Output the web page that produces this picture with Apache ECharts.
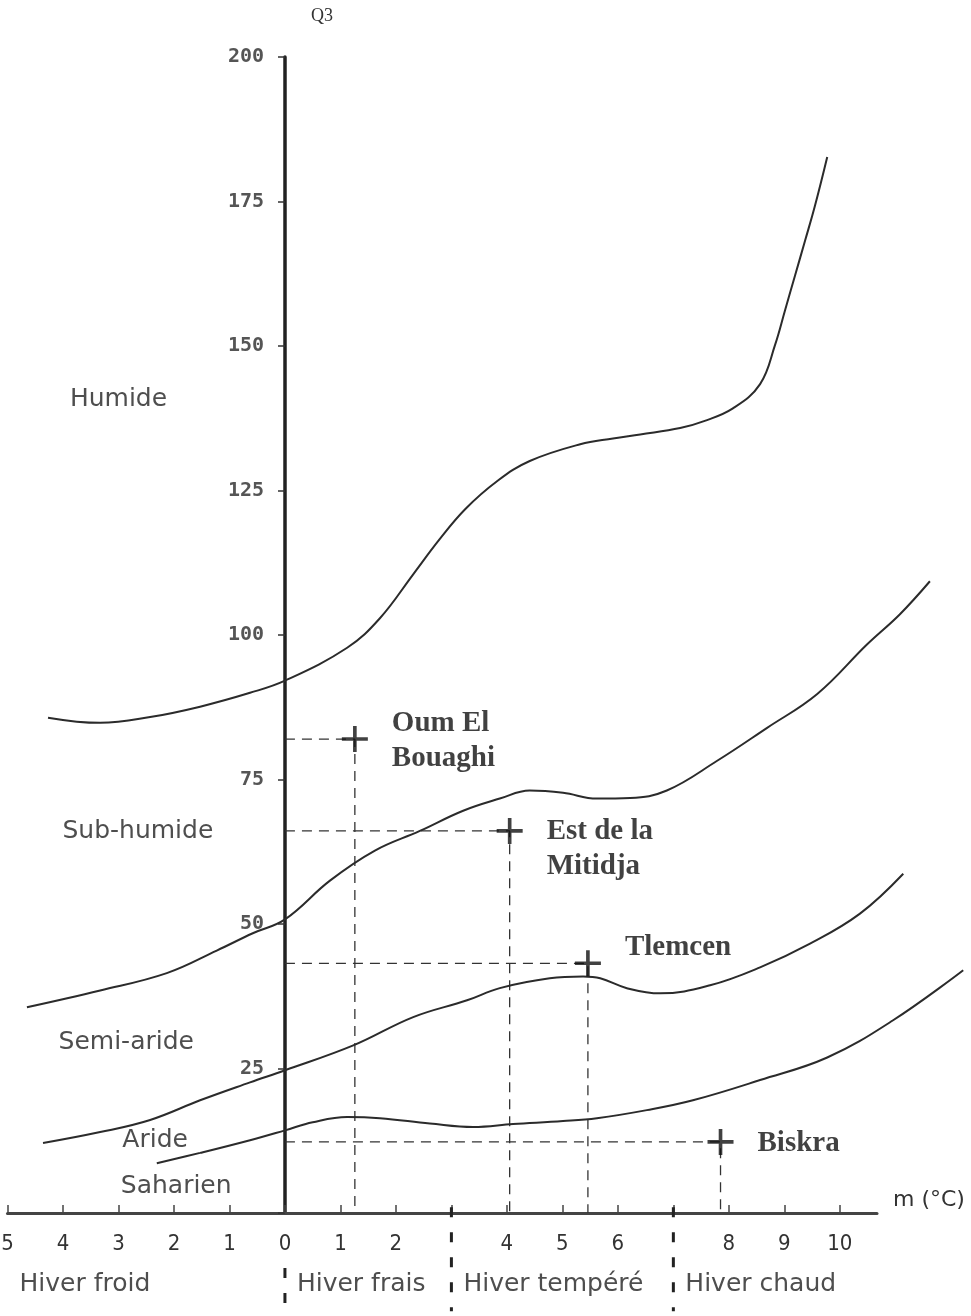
<!DOCTYPE html>
<html>
<head>
<meta charset="utf-8">
<title>Climagramme d'Emberger</title>
<script src="https://cdn.jsdelivr.net/npm/echarts@6/dist/echarts.min.js"></script>
<style>
  html, body { margin: 0; padding: 0; background: #fff; }
  #main { width: 971px; height: 1316px; }
</style>
</head>
<body>
<div id="main"></div>
<script>
// ticks of m (°C) and Q3
const xTicks = [-5, -4, -3, -2, -1, 0, 1, 2, 3, 4, 5, 6, 7, 8, 9, 10];
const xTickLabels = ['5', '4', '3', '2', '1', '0', '1', '2', '', '4', '5', '6', '', '8', '9', '10'];
const yTicks = [25, 50, 75, 100, 125, 150, 175, 200];

// limits between the bioclimatic stages, [m, Q3]
const humideLimit = [[-4.27, 85.7], [-3.33, 84.8], [-2.43, 85.8], [-1.53, 87.6], [-0.63, 90.0], [0, 92.1],
  [1.12, 97.8], [1.71, 102.9], [2.31, 110.5], [2.78, 116.5], [3.25, 121.8], [3.82, 126.6], [4.41, 130.1],
  [5.32, 133.0], [5.91, 134.0], [6.40, 134.7], [7.12, 135.8], [7.55, 137.0], [8.07, 139.2], [8.56, 143.4],
  [8.83, 150.2], [9.01, 156.2], [9.19, 162.2], [9.37, 168.2], [9.55, 174.3], [9.77, 182.7]];
const subHumideLimit = [[-4.65, 35.6], [-3.33, 38.5], [-2.13, 41.5], [-1.23, 45.4], [-0.58, 48.4], [0, 50.8],
  [0.81, 57.5], [1.62, 62.7], [2.43, 66.1], [3.21, 69.6], [3.87, 71.7], [4.41, 73.1], [5.01, 72.7],
  [5.62, 71.7], [6.22, 71.8], [6.88, 73.1], [7.78, 78.2], [8.68, 83.9], [9.59, 89.8], [10.49, 98.4],
  [11.08, 103.6], [11.62, 109.3]];
const semiArideLimit = [[-4.36, 12.1], [-3.33, 14.0], [-2.43, 16.1], [-1.53, 19.5], [-0.63, 22.6], [0, 24.7],
  [1.23, 29.0], [2.31, 33.9], [3.28, 36.8], [3.87, 38.9], [4.77, 40.6], [5.37, 40.9], [5.68, 40.6],
  [6.16, 38.9], [6.76, 38.0], [7.66, 39.4], [8.56, 42.5], [9.46, 46.6], [10.36, 51.8], [11.14, 58.7]];
const arideLimit = [[-2.31, 8.6], [-1.53, 10.4], [-0.63, 12.6], [0, 14.3], [0.50, 15.7], [1.12, 16.6],
  [1.71, 16.4], [2.61, 15.5], [3.39, 14.9], [4.11, 15.4], [5.01, 15.9], [5.62, 16.4], [6.52, 17.8],
  [7.35, 19.5], [8.56, 23.0], [9.77, 26.9], [10.95, 33.3], [12.22, 42.0]];

// stations
const stations = ['Oum El\nBouaghi', 'Est de la\nMitidja', 'Tlemcen', 'Biskra'];
const stationM = [1.26, 4.05, 5.46, 7.85];
const stationQ3 = [82.0, 66.1, 43.2, 12.3];

// stage names and where they sit
const zoneNames = ['Humide', 'Sub-humide', 'Semi-aride', 'Aride', 'Saharien'];
const zoneM = [-3.0, -2.65, -2.86, -2.34, -1.96];
const zoneQ3 = [140.8, 66.0, 29.5, 12.6, 4.5];

// winter variants
const winterNames = ['Hiver froid', 'Hiver frais', 'Hiver tempéré', 'Hiver chaud'];
const winterStart = [-5, 0, 3, 7];

window.onload = function () {
  const myChart = echarts.init(document.getElementById('main'));

  const ink = '#2b2b2b';
  const crossPath = 'path://M4.3,0H5.7V4.3H10V5.7H5.7V10H4.3V5.7H0V4.3H4.3Z';
  const stationShift = [[0, 2], [0, 18], [0, -16], [0, 2]];
  const winterY = -12.4;
  const gridBase = { top: 57, bottom: 103, containLabel: false, outerBoundsMode: 'none' };

  // curves run past the end of the m axis: draw them on a wider twin grid with the same scale
  const curveSeries = [humideLimit, subHumideLimit, semiArideLimit, arideLimit].map(d => ({
    type: 'line',
    xAxisIndex: 1,
    yAxisIndex: 1,
    data: d,
    smooth: 0.4,
    showSymbol: false,
    clip: false,
    silent: true,
    lineStyle: { color: ink, width: 2 },
    z: 3
  }));

  const guideSeries = stations.map((s, i) => ({
    type: 'line',
    data: [[0, stationQ3[i]], [stationM[i], stationQ3[i]], [stationM[i], 0]],
    showSymbol: false,
    silent: true,
    lineStyle: { color: '#333', width: 1.3, type: [10, 7] },
    z: 2
  }));

  const dividerSeries = winterStart.slice(1).map(m => ({
    type: 'line',
    data: [[m, m === 0 ? -9.5 : 1], [m, -17]],
    showSymbol: false,
    clip: false,
    silent: true,
    lineStyle: { color: '#222', width: 3, type: [10, 15] }
  }));

  const option = {
    animation: false,
    textStyle: { fontFamily: 'DejaVu Sans' },
    grid: [
      Object.assign({ left: 7.5, right: 94 }, gridBase),
      Object.assign({ left: 7.5, right: 3.35 }, gridBase),
      // Q3 axis stands at m = 0
      Object.assign({ left: 285, right: 94 }, gridBase)
    ],
    xAxis: [{
      type: 'value',
      gridIndex: 0,
      min: -5,
      max: 10.67,
      interval: 1,
      name: 'm (°C)',
      nameLocation: 'end',
      nameGap: 16,
      nameTextStyle: { fontFamily: 'DejaVu Sans', fontSize: 22, color: '#333', verticalAlign: 'bottom', padding: [0, 0, 2, 0] },
      axisLine: { onZero: false, lineStyle: { color: '#444', width: 3 } },
      axisTick: { inside: true, length: 8, customValues: xTicks, lineStyle: { color: '#444', width: 1.5 } },
      axisLabel: {
        customValues: xTicks,
        margin: 20,
        fontFamily: 'Liberation Sans Narrow, DejaVu Sans Condensed, sans-serif',
        fontSize: 22,
        color: '#333',
        formatter: v => xTickLabels[xTicks.indexOf(v)] || ''
      },
      splitLine: { show: false }
    }, {
      type: 'value', gridIndex: 1, min: -5, max: 12.3, show: false
    }, {
      type: 'value', gridIndex: 2, min: 0, max: 10.67, show: false
    }],
    yAxis: [{
      type: 'value', gridIndex: 0, min: 0, max: 200, show: false
    }, {
      type: 'value', gridIndex: 1, min: 0, max: 200, show: false
    }, {
      type: 'value',
      gridIndex: 2,
      position: 'left',
      min: 0,
      max: 200,
      interval: 25,
      name: 'Q3',
      nameLocation: 'end',
      nameGap: 32,
      nameTextStyle: { fontFamily: 'Liberation Serif', fontSize: 18, color: '#333', align: 'left', padding: [0, 0, 0, 26] },
      axisLine: { show: true, onZero: false, lineStyle: { color: '#222', width: 3.5 } },
      axisTick: { show: true, length: 7, lineStyle: { color: '#333', width: 1.5 } },
      axisLabel: {
        show: true,
        margin: 21,
        fontFamily: 'DejaVu Sans Mono',
        fontWeight: 'bold',
        fontSize: 20,
        color: '#555',
        formatter: v => (yTicks.indexOf(v) >= 0 ? String(v) : '')
      },
      splitLine: { show: false }
    }],
    series: [
      ...curveSeries,
      ...guideSeries,
      ...dividerSeries,
      {
        type: 'scatter',
        data: stations.map((s, i) => ({ value: [stationM[i], stationQ3[i]], name: s, label: { offset: stationShift[i] } })),
        symbol: crossPath,
        symbolSize: 26,
        itemStyle: { color: '#111' },
        silent: true,
        z: 5,
        label: {
          show: true,
          position: 'right',
          distance: 24,
          align: 'left',
          formatter: p => p.name,
          fontFamily: 'Liberation Serif',
          fontWeight: 'bold',
          fontSize: 29,
          lineHeight: 35,
          color: '#111'
        }
      },
      {
        type: 'scatter',
        data: zoneNames.map((s, i) => ({ value: [zoneM[i], zoneQ3[i]], name: s })),
        symbolSize: 0,
        silent: true,
        clip: false,
        label: {
          show: true,
          position: 'inside',
          formatter: p => p.name,
          fontFamily: 'DejaVu Sans',
          fontSize: 25,
          color: '#222'
        }
      },
      {
        type: 'scatter',
        data: winterNames.map((s, i) => ({ value: [winterStart[i], winterY], name: s })),
        symbolSize: 0,
        silent: true,
        clip: false,
        label: {
          show: true,
          position: 'right',
          distance: 12,
          align: 'left',
          formatter: p => p.name,
          fontFamily: 'DejaVu Sans',
          fontSize: 25,
          color: '#222'
        }
      }
    ]
  };

  myChart.setOption(option, true);
};
</script>
</body>
</html>
